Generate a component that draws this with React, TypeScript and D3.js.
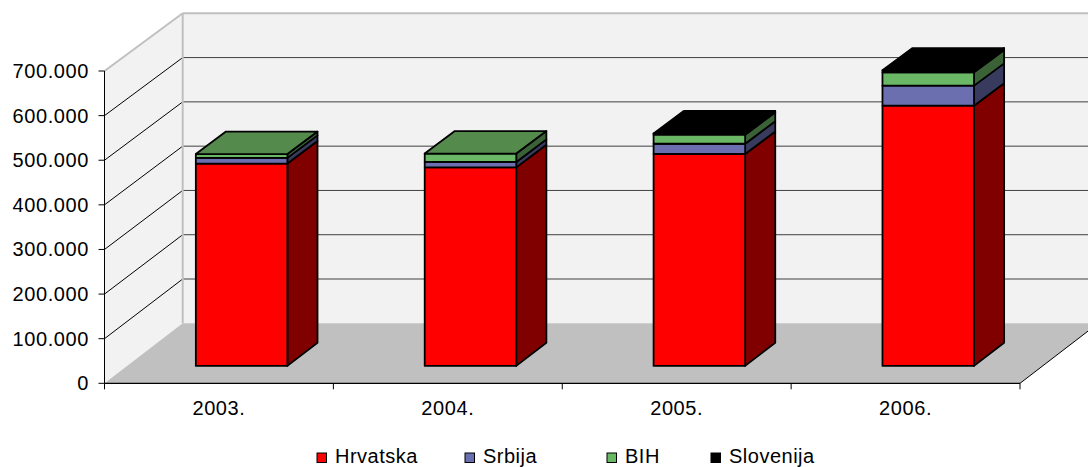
import React from "react";
import * as d3 from "d3";

const years = ["2003.", "2004.", "2005.", "2006."];
const hrvatska = [454500, 446000, 476000, 584500];
const srbija = [12800, 12200, 23000, 45000];
const bih = [8600, 18700, 20300, 30000];
const slovenija = [0, 0, 3000, 4500];
const seriesNames = ["Hrvatska", "Srbija", "BIH", "Slovenija"];
const yTickValues = [0, 100000, 200000, 300000, 400000, 500000, 600000, 700000];

const W = 1088;
const H = 467;
const X0 = 104.5;
const X1 = 1020;
const DX = 78.2;
const ZF = 0.29;
const ZB = 0.675;

const colors = [
  { front: "#ff0000", side: "#800000", top: "#cc0000" },
  { front: "#6b6fb0", side: "#383b5e", top: "#555a8f" },
  { front: "#6ab766", side: "#3b6137", top: "#548a4c" },
  { front: "#000000", side: "#000000", top: "#000000" },
];
const legendX = [317, 465, 607, 711];

const fmt = d3.formatLocale({ decimal: ",", thousands: ".", grouping: [3], currency: ["", ""] }).format(",");

export default function App() {
  const series = [hrvatska, srbija, bih, slovenija];
  const xBand = d3.scaleBand<string>().domain(years).range([X0, X1]).paddingInner(0.6).paddingOuter(0.3);
  const yFront = d3.scaleLinear().domain([0, 700000]).range([383.3, 71]);
  const yBack = d3.scaleLinear().domain([0, 700000]).range([323.3, 13.3]);
  const P = (x: number, v: number, z: number): [number, number] => [x + z * DX, yFront(v) * (1 - z) + yBack(v) * z];
  const poly = (pts: [number, number][]) => pts.map((p) => p[0].toFixed(2) + "," + p[1].toFixed(2)).join(" ");

  const stacked = d3.stack<number>().keys([0, 1, 2, 3] as any).value((i: number, k: any) => series[k][i])(d3.range(years.length) as any);

  const bars: React.ReactNode[] = [];
  years.forEach((yr, i) => {
    const x0 = xBand(yr)!;
    const x1 = x0 + xBand.bandwidth();
    let topIdx = -1;
    for (let s = 0; s < 4; s++) if (series[s][i] > 0) topIdx = s;
    for (let s = 0; s < 4; s++) {
      if (series[s][i] <= 0) continue;
      const v0 = stacked[s][i][0];
      const v1 = stacked[s][i][1];
      const c = colors[s];
      bars.push(
        <polygon key={`side-${i}-${s}`} points={poly([P(x1, v0, ZF), P(x1, v0, ZB), P(x1, v1, ZB), P(x1, v1, ZF)])} fill={c.side} stroke="#000" strokeWidth={1.8} strokeLinejoin="round" />
      );
      bars.push(
        <polygon key={`front-${i}-${s}`} points={poly([P(x0, v0, ZF), P(x1, v0, ZF), P(x1, v1, ZF), P(x0, v1, ZF)])} fill={c.front} stroke="#000" strokeWidth={1.8} strokeLinejoin="round" />
      );
      if (s === topIdx) {
        bars.push(
          <polygon key={`top-${i}-${s}`} points={poly([P(x0, v1, ZF), P(x1, v1, ZF), P(x1, v1, ZB), P(x0, v1, ZB)])} fill={c.top} stroke="#000" strokeWidth={1.8} strokeLinejoin="round" />
        );
      }
    }
  });

  const backX = X0 + DX;
  const font = "'Liberation Sans', Arial, sans-serif";

  return (
    <svg width={W} height={H} style={{ position: "absolute", left: 0, top: 0, display: "block", background: "#fff" }}>
      {/* back wall */}
      <rect x={backX} y={yBack(700000)} width={W - backX + 10} height={yBack(0) - yBack(700000)} fill="#f2f2f2" />
      {/* side wall */}
      <polygon points={poly([P(X0, 0, 0), P(X0, 700000, 0), P(X0, 700000, 1), P(X0, 0, 1)])} fill="#f2f2f2" />
      {/* floor */}
      <polygon points={poly([P(X0, 0, 0), P(X1, 0, 0), P(X1, 0, 1), P(X0, 0, 1)])} fill="#c0c0c0" />
      {/* back gridlines */}
      {yTickValues.slice(1, -1).map((v) => (
        <line key={`bg-${v}`} x1={backX} x2={W} y1={yBack(v)} y2={yBack(v)} stroke="#404040" strokeWidth={1} />
      ))}
      {/* side gridlines */}
      {yTickValues.slice(1, -1).map((v) => {
        const a = P(X0, v, 0);
        const b = P(X0, v, 1);
        return <line key={`sg-${v}`} x1={a[0]} y1={a[1]} x2={b[0]} y2={b[1]} stroke="#000" strokeWidth={1} />;
      })}
      {/* wall borders */}
      <line x1={backX} x2={W} y1={yBack(700000)} y2={yBack(700000)} stroke="#c0c0c0" strokeWidth={2} />
      <line x1={backX} x2={backX} y1={yBack(700000)} y2={yBack(0)} stroke="#c0c0c0" strokeWidth={2} />
      {(() => {
        const a = P(X0, 700000, 0);
        const b = P(X0, 700000, 1);
        return <line x1={a[0]} y1={a[1]} x2={b[0]} y2={b[1]} stroke="#c0c0c0" strokeWidth={2} />;
      })()}
      {/* floor right edge */}
      {(() => {
        const a = P(X1, 0, 0);
        const b = P(X1, 0, 1);
        return <line x1={a[0]} y1={a[1]} x2={b[0]} y2={b[1]} stroke="#000" strokeWidth={1} />;
      })()}
      {/* bars */}
      {bars}
      {/* axes */}
      <line x1={X0} x2={X0} y1={yFront(0)} y2={yFront(700000)} stroke="#000" strokeWidth={1} />
      <line x1={X0} x2={X1} y1={yFront(0)} y2={yFront(0)} stroke="#000" strokeWidth={1.2} />
      {yTickValues.map((v) => (
        <g key={`yt-${v}`}>
          <line x1={X0 - 6} x2={X0} y1={yFront(v)} y2={yFront(v)} stroke="#000" strokeWidth={1} />
          <text x={89} y={yFront(v)} dy="0.35em" textAnchor="end" fontFamily={font} fontSize={20} letterSpacing={0.6} fill="#000">
            {fmt(v)}
          </text>
        </g>
      ))}
      {[...years.map((y) => xBand(y)! - xBand.step() * 0.3), X1].map((x, k) => (
        <line key={`xt-${k}`} x1={x} x2={x} y1={yFront(0)} y2={yFront(0) + 6} stroke="#000" strokeWidth={1} />
      ))}
      {years.map((y) => (
        <text key={`xl-${y}`} x={xBand(y)! + xBand.bandwidth() / 2 - xBand.step() * 0.0 + 0} y={415} textAnchor="middle" fontFamily={font} fontSize={20} letterSpacing={0.6} fill="#000">
          {y}
        </text>
      ))}
      {/* legend */}
      {seriesNames.map((n, s) => (
        <g key={`lg-${n}`}>
          <rect x={legendX[s]} y={453} width={9.5} height={9.5} fill={colors[s].front} stroke="#000" strokeWidth={1} />
          <text x={legendX[s] + 18} y={463} fontFamily={font} fontSize={20} letterSpacing={0.5} fill="#000">
            {n}
          </text>
        </g>
      ))}
    </svg>
  );
}
